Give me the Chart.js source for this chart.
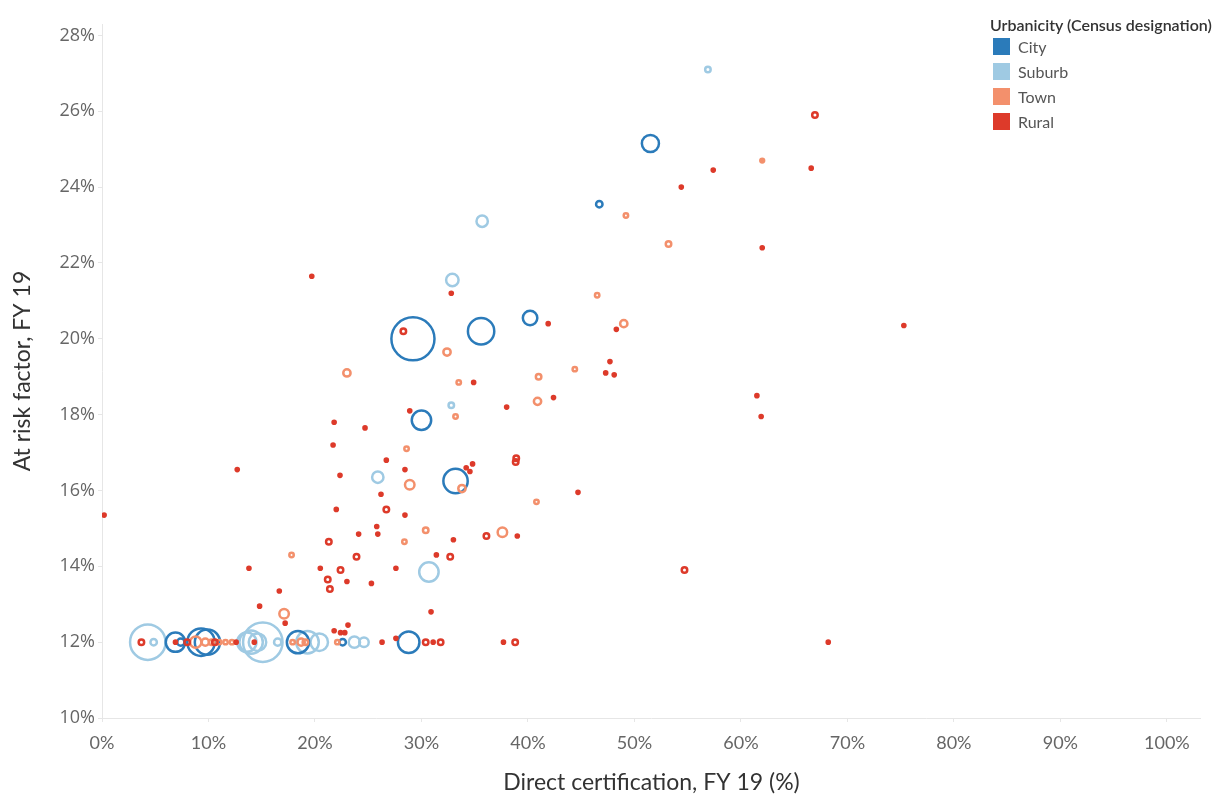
<!DOCTYPE html>
<html>
<head>
<meta charset="utf-8">
<script src="https://cdn.jsdelivr.net/npm/chart.js@4.4.1/dist/chart.umd.min.js"></script>
<style>
  html, body { margin: 0; padding: 0; background: #fff; }
  #wrap { position: relative; width: 1225px; height: 796px; }
  #legend { position: absolute; left: 990px; top: 15px; font-family: Lato, "Open Sans", sans-serif; }
  #legend .lt { font-size: 16px; font-weight: 600; color: #333; margin-bottom: 0; white-space: nowrap; }
  #legend .li { height: 25px; display: flex; align-items: center; font-size: 16px; color: #555; }
  #legend .sw { width: 17px; height: 17px; margin: 0 8px 0 3px; display: inline-block; }
</style>
</head>
<body>
<div id="wrap">
  <canvas id="scatter" width="1225" height="796"></canvas>
  <div id="legend"></div>
</div>
<script>
// urbanicity categories + colours
const categories = ['City', 'Suburb', 'Town', 'Rural']
const catColors = ['#2b7bba', '#9fcae3', '#f3906c', '#dd3a2a']

// tick labels (%)
const xTickVals = [0, 10, 20, 30, 40, 50, 60, 70, 80, 90, 100]
const yTickVals = [10, 12, 14, 16, 18, 20, 22, 24, 26, 28]

// x = direct certification %, y = at risk factor %, n = enrollment (size)
const cityX = [29.2, 35.6, 40.2, 51.5, 46.7, 30.0, 33.2, 6.9, 7.4, 9.3, 9.9, 18.4, 22.6, 28.8]
const cityY = [20.0, 20.2, 20.55, 25.15, 23.55, 17.85, 16.25, 12, 12, 12, 12, 12, 12, 12]
const cityN = [130, 52, 18, 24, 5, 30, 45, 30, 6, 56, 48, 38, 5, 36]

const suburbX = [56.9, 35.7, 32.9, 32.8, 25.9, 30.7, 4.3, 4.85, 13.6, 14.0, 14.6, 15.1, 16.5, 19.3, 20.4, 23.7, 24.6]
const suburbY = [27.1, 23.1, 21.55, 18.25, 16.35, 13.85, 12, 12, 12, 12, 12, 12, 12, 12, 12, 12, 12]
const suburbN = [4, 12, 14, 4, 12, 30, 90, 5, 30, 42, 25, 110, 6, 39, 25, 12, 9]

const townX = [62.0, 49.2, 53.2, 46.5, 49.0, 32.4, 23.0, 41.0, 44.4, 33.5, 40.9, 33.2, 28.6, 28.9, 33.8, 40.8, 30.4, 28.4, 37.6, 17.8, 17.1, 8.8, 9.7, 10.3, 11.0, 11.6, 12.2, 17.9, 18.7, 19.1, 22.1]
const townY = [24.7, 23.25, 22.5, 21.15, 20.4, 19.65, 19.1, 19.0, 19.2, 18.85, 18.35, 17.95, 17.1, 16.15, 16.05, 15.7, 14.95, 14.65, 14.9, 14.3, 12.75, 12, 12, 12, 12, 12, 12, 12, 12, 12, 12]
const townN = [2.5, 3, 4, 3, 6, 6, 6, 4, 3, 3, 6, 3, 3, 9, 6, 3, 4, 3, 9, 3, 9, 12, 6, 4, 3, 3, 3, 3, 6, 4, 3]

const ruralX = [19.7, 32.8, 41.9, 75.3, 34.9, 28.9, 38.0, 42.4, 21.8, 24.7, 21.7, 26.7, 28.45, 22.35, 34.2, 34.55, 34.8, 12.7, 26.2, 22.0,
  28.45, 25.8, 25.9, 24.1, 33.0, 39.0, 31.4, 20.5, 27.6, 23.0, 25.3, 16.65, 13.8, 14.8, 17.2, 21.8, 23.1, 22.4, 22.8, 30.9,
  0.2, 57.4, 54.4, 66.6, 62.0, 48.3, 47.7, 47.3, 48.1, 61.5, 61.9, 44.7, 14.3, 26.3, 27.6, 37.7, 68.2, 31.1, 6.9, 12.6,
  66.95, 28.3, 38.9, 38.85, 26.7, 36.1, 21.3, 23.9, 32.7, 22.4, 21.2, 21.4, 54.7, 3.7, 30.4, 31.8, 38.8, 8.0, 10.6]
const ruralY = [21.65, 21.2, 20.4, 20.35, 18.85, 18.1, 18.2, 18.45, 17.8, 17.65, 17.2, 16.8, 16.55, 16.4, 16.6, 16.5, 16.7, 16.55, 15.9, 15.5,
  15.35, 15.05, 14.85, 14.85, 14.7, 14.8, 14.3, 13.95, 13.95, 13.6, 13.55, 13.35, 13.95, 12.95, 12.5, 12.3, 12.45, 12.25, 12.25, 12.8,
  15.35, 24.45, 24.0, 24.5, 22.4, 20.25, 19.4, 19.1, 19.05, 18.5, 17.95, 15.95, 12, 12, 12.1, 12, 12, 12, 12, 12,
  25.9, 20.2, 16.85, 16.75, 15.5, 14.8, 14.65, 14.25, 14.25, 13.9, 13.65, 13.4, 13.9, 12, 12, 12, 12, 12, 12]
const ruralN = [2, 2, 2, 2, 2, 2, 2, 2, 2, 2, 2, 2, 2, 2, 2, 2, 2, 2, 2, 2,
  2, 2, 2, 2, 2, 2, 2, 2, 2, 2, 2, 2, 2, 2, 2, 2, 2, 2, 2, 2,
  2, 2, 2, 2, 2, 2, 2, 2, 2, 2, 2, 2, 2, 2, 2, 2, 2, 2, 2, 2,
  4, 4, 4, 4, 4, 4, 4, 4, 4, 4, 4, 4, 4, 4, 4, 4, 4, 4, 4]

const RING = 2.5

function toPoints(xs, ys, ns) {
    return xs.map((x, i) => ({ x: x, y: ys[i], r: Math.max(2 * Math.sqrt(ns[i]) - RING / 2, 1) }))
}

function makeSet(idx, xs, ys, ns, order) {
    const col = catColors[idx]
    return {
        label: categories[idx],
        data: toPoints(xs, ys, ns),
        borderColor: col,
        backgroundColor: (c) => (c.raw && c.raw.r < 2.2) ? col : 'rgba(0,0,0,0)',
        borderWidth: RING,
        hoverBorderWidth: RING,
        hoverRadius: 0,
        order: order
    }
}

// legend
const legendEl = document.getElementById('legend')
let html = '<div class="lt">Urbanicity (Census designation)</div>'
categories.forEach((c, i) => {
    html += '<div class="li"><span class="sw" style="background:' + catColors[i] + '"></span>' + c + '</div>'
})
legendEl.innerHTML = html

const axisGrey = '#e6e6e6'
const ctx = document.getElementById('scatter').getContext('2d')
const myChart = new Chart(ctx, {
    type: 'bubble',
    data: {
        datasets: [
            makeSet(0, cityX, cityY, cityN, 3),
            makeSet(1, suburbX, suburbY, suburbN, 4),
            makeSet(2, townX, townY, townN, 2),
            makeSet(3, ruralX, ruralY, ruralN, 1)
        ]
    },
    options: {
        responsive: false,
        animation: false,
        events: [],
        layout: { padding: { top: 7, right: 5, left: 0, bottom: 0 } },
        plugins: { legend: { display: false }, tooltip: { enabled: false } },
        scales: {
            x: {
                type: 'linear', min: 0, max: 103.2,
                afterBuildTicks: (s) => { s.ticks = xTickVals.map(v => ({ value: v })) },
                afterFit: (s) => { s.height = 78 },
                grid: { drawOnChartArea: false, color: axisGrey, tickLength: 4 },
                border: { color: axisGrey },
                ticks: { callback: v => v + '%', color: '#666', padding: 10, maxRotation: 0, font: { family: 'Lato', size: 18 } },
                title: { display: true, text: 'Direct certification, FY 19 (%)', color: '#333', padding: { top: 0, bottom: 0 }, font: { family: 'Lato', size: 23 } }
            },
            y: {
                type: 'linear', min: 10, max: 28.3,
                afterBuildTicks: (s) => { s.ticks = yTickVals.map(v => ({ value: v })) },
                afterFit: (s) => { s.width = 102 },
                grid: { drawOnChartArea: false, color: axisGrey, tickLength: 4 },
                border: { color: axisGrey },
                ticks: { callback: v => v + '%', color: '#666', padding: 3, font: { family: 'Open Sans', size: 18 } },
                title: { display: true, text: 'At risk factor, FY 19', color: '#333', padding: { top: 9, bottom: 0 }, font: { family: 'Lato', size: 23 } }
            }
        }
    }
})
</script>
</body>
</html>
